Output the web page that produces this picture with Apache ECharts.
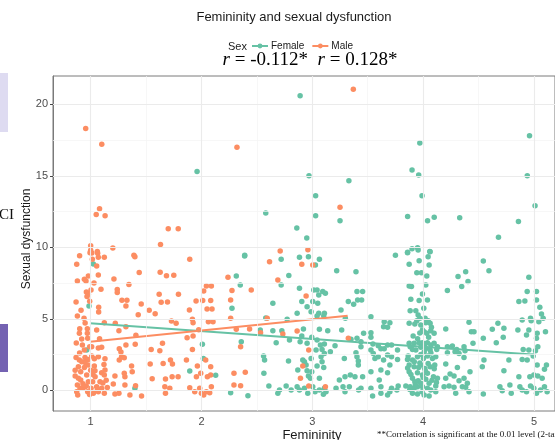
<!DOCTYPE html>
<html><head><meta charset="utf-8">
<script src="https://cdn.jsdelivr.net/npm/echarts@6/dist/echarts.min.js"></script>
<style>html,body{margin:0;padding:0;background:#fff}#c{width:555px;height:440px}</style>
</head><body><div id="c"></div>
<script>
const xTicks = [1, 2, 3, 4, 5];
const xMinor = [1.5, 2.5, 3.5, 4.5];
const yTicks = [0, 5, 10, 15, 20];
const yMinor = [2.5, 7.5, 12.5, 17.5];

const femaleFit = [[0.994, 4.68], [4.984, 2.51]];
const maleFit = [[0.994, 3.40], [3.319, 5.22]];

const femalePoints = [
[1.96,15.3],[2.89,20.6],[2.97,15.0],[3.33,14.65],[3.03,13.6],[2.58,12.4],[3.03,12.2],[3.25,11.85],[2.86,11.35],[2.95,10.65],[2.39,9.45],
[4.96,17.8],[3.97,17.3],[3.90,15.4],[3.96,15.05],[4.94,15.0],[3.99,13.6],[5.01,12.9],[3.86,12.15],[4.04,11.85],[4.10,12.1],[4.33,12.07],[4.86,11.8],[4.68,10.7],[3.86,9.65],[3.90,9.9],[3.95,9.97],[4.06,9.7],[3.75,9.45],
[1.024,8.83],[0.985,5.89],[0.964,2.82],[2.008,3.21],[2.017,2.23],[1.894,1.35],[2.128,1.05],[1.399,0.14],
[2.389,9.39],[2.719,9.16],[2.884,9.30],[2.965,9.34],[3.064,9.16],[3.028,8.76],[2.314,7.99],[2.35,7.36],[2.788,8.02],[2.719,7.36],[3.22,8.36],[3.394,8.29],
[2.884,7.13],[3.013,7.01],[3.043,7.01],[3.094,6.90],[3.118,6.78],[3.058,6.66],[3.004,6.20],[3.049,6.08],[2.644,6.08],[2.905,6.20],[2.953,5.85],
[3.403,6.90],[3.454,6.90],[3.409,6.31],[3.445,6.31],[3.325,6.20],[3.373,6.01],[2.275,5.73],[2.863,5.38],[2.989,5.50],[3.058,5.38],[3.109,5.38],[3.103,5.19],[3.043,5.19],
[3.259,5.61],[3.298,5.03],[2.773,4.96],[3.529,5.15],[3.649,4.80],[3.70,4.73],[3.679,4.40],[3.643,4.45],[2.58,5.05],[2.53,4.22],[2.56,2.40],
[2.644,4.17],[2.725,4.17],[2.92,4.29],[3.064,4.26],[3.139,4.17],[2.995,3.70],[2.89,3.40],[2.953,3.28],[3.043,3.52],[2.905,3.80],[2.794,3.52],[2.674,3.33],[2.359,3.40],
[3.109,3.24],[3.205,3.12],[3.265,4.22],[3.349,3.56],[3.403,3.63],[3.439,3.40],[3.439,3.05],[3.463,3.98],[3.529,4.03],[3.529,3.70],[3.547,3.24],[3.595,3.12],[3.619,2.91],
[3.649,2.91],[3.679,3.17],[3.715,3.17],[3.073,3.17],[3.088,2.86],[3.109,2.58],[3.079,2.35],[3.163,2.70],[3.034,2.82],[2.989,2.23],[2.929,2.00],[2.944,1.77],[2.914,2.12],
[2.785,2.05],[2.569,2.12],[3.289,2.23],[3.394,2.63],[3.403,2.35],[3.415,2.05],[3.415,1.77],[3.529,2.82],[3.55,2.58],[3.565,2.23],[3.595,2.35],[3.643,2.12],[3.679,2.47],[3.70,1.77],[3.715,2.35],
[2.563,1.19],[2.869,1.42],[2.953,1.37],[2.995,1.30],[3.043,1.70],[3.103,1.60],[3.088,2.00],[3.064,0.84],[2.983,0.84],[2.965,1.0],[3.244,0.72],[3.295,0.95],[3.343,1.07],[3.385,0.95],
[3.454,0.95],[3.529,1.30],[3.619,1.42],[3.679,1.23],[3.604,0.72],[2.608,0.30],[2.704,0.02],[2.689,-0.21],[2.764,0.30],[2.809,0.02],[2.863,0.25],[2.884,0.02],[2.929,0.14],[3.004,0.25],
[3.025,-0.10],[3.064,0.02],[3.109,0.14],[3.124,-0.10],[2.959,-0.21],[3.10,-0.28],[3.214,0.14],[3.277,0.25],[3.295,-0.10],[3.334,0.25],[3.418,0.02],[3.439,0.14],[3.529,0.14],[3.544,-0.40],
[3.619,-0.21],[3.619,0.25],[3.70,-0.10],[3.715,0.14],[2.263,-0.17],[2.419,-0.38],[3.679,-0.33],
[3.859,9.62],[3.955,9.81],[4.063,9.69],[4.045,9.34],[3.964,9.06],[3.874,8.81],[4.054,8.76],[3.943,8.22],[3.985,8.22],[4.033,7.99],[4.024,7.36],[3.874,7.29],[3.895,7.25],[3.994,6.73],
[3.889,6.36],[3.964,6.27],[4.039,6.31],[4.543,9.04],[4.594,8.36],[4.315,7.95],[4.384,8.29],[4.405,7.60],[4.348,7.25],[4.219,6.97],[4.954,7.90],[4.939,6.90],[5.023,6.90],[4.864,6.20],
[4.918,6.24],[5.023,6.31],[5.053,5.80],[5.068,5.33],[5.083,5.03],[4.006,5.73],[3.883,5.57],[3.934,5.57],[3.955,5.26],[3.970,5.03],[4.018,5.03],[4.045,4.87],[3.874,4.68],[3.943,4.87],
[3.925,4.64],[3.979,4.57],[4.024,4.73],[4.063,4.68],[4.075,4.40],[3.994,4.22],[4.009,4.10],[4.033,3.98],[4.069,4.17],[4.099,3.98],[4.204,4.29],[4.414,4.75],[4.435,4.10],[4.459,4.10],
[4.624,4.26],[4.675,4.68],[4.729,4.33],[4.543,3.63],[4.66,3.33],[4.723,3.70],[4.894,4.91],[4.969,5.03],[4.975,4.87],[5.044,4.80],[4.855,4.22],[4.933,3.87],[4.954,4.22],[5.029,3.98],[5.104,4.10],[5.023,3.63],
[3.874,3.28],[3.883,3.05],[3.919,3.28],[3.964,3.33],[3.994,3.33],[4.015,3.24],[4.039,3.33],[4.069,3.17],[4.099,3.28],[4.129,3.05],[4.123,2.86],[3.904,2.86],[3.934,2.82],[3.979,3.0],
[4.024,2.93],[4.063,2.82],[4.219,3.05],[4.264,3.10],[4.303,2.86],[4.369,3.05],[4.378,2.77],[4.219,2.63],[4.288,2.70],[4.324,2.58],[4.369,2.30],[4.45,3.28],[3.769,2.82],[3.865,2.40],
[3.769,2.16],[3.859,2.16],[3.904,2.12],[3.949,2.35],[4.003,2.23],[4.039,2.40],[4.084,2.23],[4.114,2.35],[4.045,1.88],[3.874,1.77],[3.919,1.65],[3.979,1.77],[4.015,1.53],[4.063,1.65],
[4.105,1.77],[4.204,1.84],[4.309,1.60],[4.549,2.12],[4.534,1.65],[4.774,2.12],[4.894,2.16],[4.939,2.12],[4.993,2.40],[5.014,2.77],[5.035,3.05],[5.113,1.77],[5.095,1.47],[4.954,2.82],
[4.903,2.86],[5.029,1.77],[4.729,1.37],[4.423,1.30],
[3.874,1.30],[3.949,1.23],[3.994,1.07],[4.039,1.19],[4.093,0.95],[4.129,0.84],[4.204,0.84],[4.243,1.14],[4.279,1.0],[4.324,0.67],[4.369,0.84],[4.399,0.49],[3.904,0.84],[3.925,0.60],
[3.955,0.67],[3.979,0.49],[4.024,0.77],[4.054,0.49],[3.775,0.30],[3.844,0.30],[3.883,0.25],[3.919,0.14],[3.949,0.25],[3.994,0.25],[4.039,0.14],[4.069,0.02],[4.114,-0.10],[4.114,0.30],
[4.189,0.25],[4.234,0.30],[4.279,0.21],[4.294,-0.21],[4.354,0.25],[4.384,0.21],[4.414,-0.10],[4.543,-0.26],[4.693,0.25],[4.714,-0.03],[4.783,0.37],[4.795,-0.21],[4.873,0.25],[4.894,0.02],
[4.933,-0.10],[4.969,0.30],[4.999,0.14],[5.023,-0.21],[5.059,0.02],[5.095,0.25],[5.119,-0.10],[4.864,0.95],[4.963,0.95],[4.999,1.07],[5.035,1.00],[5.074,0.84],[3.904,-0.21],[3.949,-0.26],
[4.009,-0.33],[4.054,-0.40],[3.763,0.02],[3.96,1.6],[3.98,2.5],[4.0,0.9],[3.93,0.4],[3.97,1.9],[4.01,2.7],[3.95,3.6],[4.08,0.7],[3.99,-0.1],[3.89,1.1],
[3.92,2.0],[4.02,1.35],[4.07,2.6],[3.88,0.05],[4.10,1.5],[3.97,4.0],[4.05,3.7],[3.91,3.8],[4.12,0.55],[3.86,1.55]
];

const malePoints = [
[0.955,18.3],[1.10,17.2],[1.08,12.7],[1.05,12.3],[1.13,12.2],[1.70,11.3],[1.79,11.3],[1.63,10.2],[1.0,10.1],[1.0,9.8],[1.01,9.6],[1.06,9.7],[1.20,9.95],[1.39,9.45],
[2.32,17.0],[3.25,12.8],[2.71,9.74],[2.96,9.83],[3.37,21.05],
[2.614,8.99],[2.905,8.81],[3.004,8.76],[2.239,7.90],[2.689,7.71],[2.449,7.01],[2.275,6.97],[2.263,6.31],[2.944,6.59],[2.263,5.03],[2.593,5.03],[2.314,4.26],[2.434,4.29],[2.533,4.03],
[2.863,4.15],[2.734,3.94],[2.353,3.05],[3.325,3.63],[2.968,2.82],[2.914,1.70],[2.293,1.19],[2.395,1.26],[2.293,0.37],[2.353,0.32],[2.893,0.84],[2.968,0.30],[3.118,0.25],
[0.874,8.81],[0.994,9.62],[1.063,9.58],[1.069,9.30],[1.123,9.30],[1.015,9.16],[1.399,9.34],[1.894,9.16],[1.054,8.69],[1.438,8.23],[1.627,8.25],[1.684,8.01],[1.750,8.04],[1.069,8.06],
[0.979,7.99],[0.880,7.64],[0.943,7.76],[0.958,7.64],[1.21,7.78],[1.345,7.39],[1.093,7.06],[1.003,7.01],[0.961,6.87],[0.979,6.71],[0.967,6.55],[1.24,7.04],[1.24,6.83],[1.618,6.71],
[1.792,6.71],[2.044,7.29],[2.089,7.29],[2.02,6.94],[0.868,6.17],[0.991,6.22],[1.072,5.80],[1.072,5.47],[0.913,5.59],[1.282,6.29],[1.327,6.29],[1.318,5.89],[1.456,6.03],[1.636,6.15],
[1.693,6.17],[1.528,5.59],[1.429,5.29],[1.582,5.36],[1.891,5.61],[1.951,6.24],[2.011,6.27],[2.083,6.27],[2.05,5.68],[2.095,5.68],[0.94,5.03],[1.123,4.73],[1.222,4.68],[1.318,4.45],
[1.729,4.84],[1.771,4.68],[1.918,4.96],[1.924,4.73],[2.062,4.80],[2.104,4.80],[0.901,4.31],[0.97,4.31],[0.898,3.98],[0.97,3.98],[0.973,3.63],[0.919,3.59],[1.054,4.22],[1.255,4.17],
[1.408,3.84],[1.402,3.21],[1.318,3.17],[1.648,3.28],[1.87,3.68],[1.924,3.80],[1.975,4.24],[0.925,3.17],[0.943,2.82],[0.991,3.05],[1.009,3.05],[1.069,2.96],[1.099,3.0],[1.258,2.91],
[1.273,2.68],[1.546,2.86],[1.624,2.77],[1.918,2.86],[0.868,2.30],[0.898,2.12],[0.949,2.30],[0.979,2.16],[1.009,2.40],[1.033,2.21],[1.069,2.35],[1.129,2.21],[1.279,2.35],[1.303,2.28],
[1.258,2.12],[1.537,1.84],[1.654,1.88],[1.72,2.12],[1.738,1.84],[1.864,2.12],[1.963,1.70],[2.038,2.12],[2.083,1.65],
[0.889,1.65],[0.943,1.60],[0.979,1.77],[1.033,1.70],[0.910,1.30],[0.964,1.07],[1.039,1.37],[1.099,1.23],[1.123,1.07],[1.129,1.42],[1.219,1.00],[1.303,1.19],[1.309,0.95],[1.369,1.70],
[1.375,1.30],[1.555,0.81],[1.675,0.79],[1.735,0.95],[1.789,0.95],[1.954,0.95],[1.993,1.19],[2.053,0.95],[2.083,1.07],[0.889,0.84],[0.910,0.72],[0.880,0.37],[0.904,0.14],[0.874,-0.10],
[0.883,-0.33],[0.928,0.14],[0.949,0.25],[0.973,-0.10],[1.003,0.14],[1.024,-0.21],[1.054,0.25],[1.069,-0.10],[1.099,0.14],[1.123,-0.21],[1.084,0.60],[1.018,0.60],[0.979,0.60],[1.204,0.44],
[1.219,-0.26],[1.255,-0.21],[1.309,0.37],[1.354,-0.33],[1.459,-0.40],[1.405,0.32],[1.669,0.25],[1.675,-0.21],[1.714,0.14],[1.894,0.18],[1.939,-0.10],[1.984,0.14],[1.999,-0.21],[2.020,-0.33],
[2.044,-0.10],[2.074,-0.17],[2.089,0.25],[0.90,2.6],[0.95,1.95],[1.0,1.4],[0.93,0.45],[1.04,0.95],[0.99,-0.3],[1.11,0.5],[0.86,1.0],
[0.87,3.3],[0.92,2.0],[0.96,0.3],[1.02,1.1],[1.06,0.0],[1.14,0.7],[0.88,5.2],[1.08,3.6],[1.12,1.8],[0.95,4.7],[1.03,7.5],[0.90,9.4],[1.15,0.2],[0.86,1.4]
];

const chart = echarts.init(document.getElementById('c'), null, {renderer: 'canvas'});
const gridColor = '#EBEBEB';
const minorColor = '#F3F3F3';
const femaleColor = '#66C2A5';
const maleColor = '#FC8D62';
const sans = '"Liberation Sans", Arial, sans-serif';

const gridLines = []
  .concat(yMinor.map(v => ({yAxis: v, lineStyle: {color: minorColor, width: 0.7, type: 'solid'}})))
  .concat(xMinor.map(v => ({xAxis: v, lineStyle: {color: minorColor, width: 0.7, type: 'solid'}})))
  .concat(yTicks.map(v => ({yAxis: v, lineStyle: {color: gridColor, width: 1.1, type: 'solid'}})))
  .concat(xTicks.map(v => ({xAxis: v, lineStyle: {color: gridColor, width: 1.1, type: 'solid'}})));

chart.setOption({
  animation: false,
  backgroundColor: '#ffffff',
  grid: {left: 53, top: 76, right: 0, bottom: 29, show: true, borderColor: '#7a7a7a', borderWidth: 1, backgroundColor: '#fff'},
  xAxis: {
    type: 'value', min: 0.66, max: 5.19,
    axisLine: {show: true, lineStyle: {color: '#7a7a7a', width: 1}},
    axisTick: {show: true, length: 3, lineStyle: {color: '#444'}, customValues: xTicks},
    axisLabel: {color: '#4D4D4D', fontSize: 11, fontFamily: sans, margin: 5, customValues: xTicks},
    splitLine: {show: false}
  },
  yAxis: {
    type: 'value', min: -1.45, max: 21.98,
    axisLine: {show: true, lineStyle: {color: '#7a7a7a', width: 1}},
    axisTick: {show: true, length: 3, lineStyle: {color: '#444'}, customValues: yTicks},
    axisLabel: {color: '#4D4D4D', fontSize: 11, fontFamily: sans, margin: 5, customValues: yTicks},
    splitLine: {show: false}
  },
  legend: {
    data: ['Female', 'Male'],
    left: 251, top: 41,
    itemWidth: 16, itemHeight: 6, itemGap: 7,
    textStyle: {fontSize: 10, color: '#1a1a1a', fontFamily: sans, padding: [0, 0, 0, -2]},
    padding: 0
  },
  series: [
    {type: 'scatter', name: 'grid', data: [], z: 1, silent: true,
     markLine: {silent: true, symbol: ['none', 'none'], label: {show: false}, animation: false, data: gridLines}},
    {type: 'line', name: 'Female', data: femaleFit, z: 4, symbol: 'circle', symbolSize: 5, showSymbol: false,
     lineStyle: {color: femaleColor, width: 2}, itemStyle: {color: femaleColor}},
    {type: 'line', name: 'Male', data: maleFit, z: 4, symbol: 'circle', symbolSize: 5, showSymbol: false,
     lineStyle: {color: maleColor, width: 2}, itemStyle: {color: maleColor}},
    {type: 'scatter', name: 'Female', data: femalePoints, z: 2, symbolSize: 5.5, itemStyle: {color: femaleColor, opacity: 1}},
    {type: 'scatter', name: 'Male', data: malePoints, z: 3, symbolSize: 5.5, itemStyle: {color: maleColor, opacity: 1}}
  ],
  graphic: [
    {type: 'rect', shape: {x: 0, y: 73, width: 8, height: 59}, style: {fill: '#DEDBF1'}, silent: true},
    {type: 'rect', shape: {x: 0, y: 324, width: 8, height: 48}, style: {fill: '#7462B2'}, silent: true},
    {type: 'text', left: -1, top: 208, style: {text: 'CI', font: '15px "Liberation Serif", serif', fill: '#111'}},
    {type: 'text', x: 294, y: 17, style: {text: 'Femininity and sexual dysfunction', font: '13px ' + sans, fill: '#1a1a1a', textAlign: 'center', textVerticalAlign: 'middle'}},
    {type: 'text', left: 228, top: 41, style: {text: 'Sex', font: '11px ' + sans, fill: '#1a1a1a'}},
    {type: 'text', x: 310, y: 60, style: {
      rich: {i: {fontFamily: 'Liberation Serif', fontStyle: 'italic', fontSize: 19, fill: '#000'}, n: {fontFamily: 'Liberation Serif', fontSize: 19, fill: '#000'}},
      text: '{i|r}{n| = -0.112*  }{i|r}{n| = 0.128*}', textAlign: 'center', textVerticalAlign: 'middle'}},
    {type: 'text', x: 27, y: 239, rotation: Math.PI / 2, style: {text: 'Sexual dysfunction', font: '12px ' + sans, fill: '#1a1a1a', textAlign: 'center', textVerticalAlign: 'middle'}},
    {type: 'text', x: 312, y: 435, style: {text: 'Femininity', font: '13px ' + sans, fill: '#1a1a1a', textAlign: 'center', textVerticalAlign: 'middle'}},
    {type: 'text', left: 377, top: 430, style: {text: '**Correlation is significant at the 0.01 level (2-tailed).', font: '9px "Liberation Serif", serif', fill: '#111'}}
  ]
});
</script></body></html>
